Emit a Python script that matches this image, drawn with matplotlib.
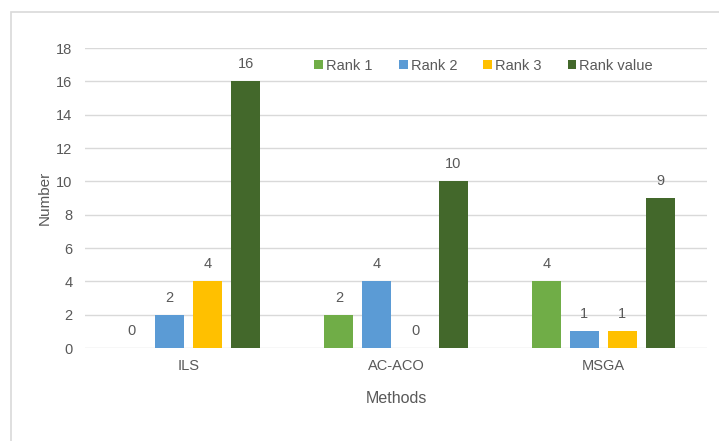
import matplotlib
matplotlib.use("Agg")
import matplotlib.pyplot as plt
from matplotlib.patches import Rectangle
import numpy as np

methods = ["ILS", "AC-ACO", "MSGA"]
series_names = ["Rank 1", "Rank 2", "Rank 3", "Rank value"]
rank1 = [0, 2, 4]
rank2 = [2, 4, 1]
rank3 = [4, 0, 1]
rank_value = [16, 10, 9]
colors = ["#70AD47", "#5B9BD5", "#FFC000", "#43682B"]
yticks = [0, 2, 4, 6, 8, 10, 12, 14, 16, 18]

plt.rcParams['font.family'] = ['Liberation Sans', 'DejaVu Sans']
text_color = "#595959"

fig = plt.figure(figsize=(7.19, 4.41), dpi=100)
ax = fig.add_axes([85/719, 1-348/441, (707-85)/719, (348-48)/441])

x = np.arange(len(methods))
step = 0.1836
width = 0.14
all_series = [rank1, rank2, rank3, rank_value]
for i, (vals, name, c) in enumerate(zip(all_series, series_names, colors)):
    pos = x + (i - 1.5) * step
    ax.bar(pos, vals, width=width, color=c, label=name, zorder=3)
    for p, v in zip(pos, vals):
        ax.text(p, v + 0.6, str(v), ha='center', va='bottom', fontsize=10.5, color=text_color)

ax.set_xlim(-0.5, 2.5)
ax.set_ylim(0, 18)
ax.set_yticks(yticks)
ax.set_xticks(x)
ax.set_xticklabels(methods)
ax.grid(axis='y', color='#D9D9D9', linewidth=1, zorder=0)
ax.set_axisbelow(True)
for s in ['top', 'right', 'left', 'bottom']:
    ax.spines[s].set_visible(False)
ax.tick_params(axis='both', length=0, colors=text_color, labelsize=10.5)
ax.tick_params(axis='y', pad=9)
ax.tick_params(axis='x', pad=8)
ax.set_ylabel("Number", color=text_color, fontsize=11, labelpad=3)
ax.set_xlabel("Methods", color=text_color, fontsize=11.5, labelpad=13)

ax.legend(loc='upper center', bbox_to_anchor=(0.641, 1.008), ncol=4, frameon=False,
          fontsize=10.5, handlelength=0.6, handleheight=0.6, handletextpad=0.2,
          columnspacing=1.8, labelcolor=text_color)

fig.patches.append(Rectangle((11/719, -0.1), 1.2, 1.1 - 12/441, transform=fig.transFigure,
                             fill=False, edgecolor='#D9D9D9', linewidth=1.2))

fig.savefig("out.png", dpi=100)
